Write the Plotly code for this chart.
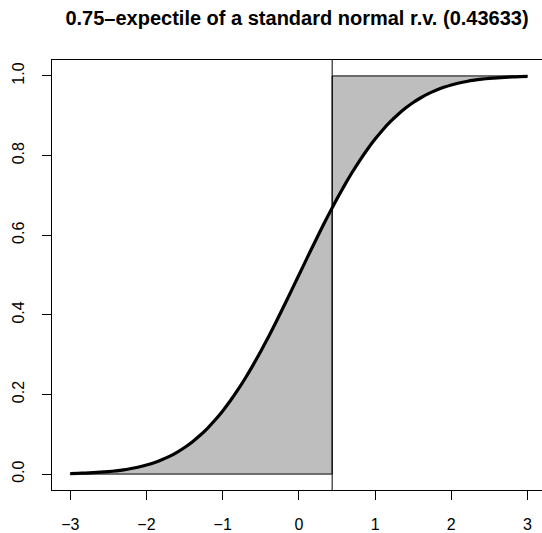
import plotly.graph_objects as go

# normal CDF curve, read at steps of 0.1
x_vals = [-3.0, -2.9, -2.8, -2.7, -2.6, -2.5, -2.4, -2.3, -2.2, -2.1,
          -2.0, -1.9, -1.8, -1.7, -1.6, -1.5, -1.4, -1.3, -1.2, -1.1,
          -1.0, -0.9, -0.8, -0.7, -0.6, -0.5, -0.4, -0.3, -0.2, -0.1,
          0.0, 0.1, 0.2, 0.3, 0.4, 0.5, 0.6, 0.7, 0.8, 0.9,
          1.0, 1.1, 1.2, 1.3, 1.4, 1.5, 1.6, 1.7, 1.8, 1.9,
          2.0, 2.1, 2.2, 2.3, 2.4, 2.5, 2.6, 2.7, 2.8, 2.9, 3.0]
cdf_vals = [0.00135, 0.00187, 0.00256, 0.00347, 0.00466, 0.00621, 0.00820, 0.01072, 0.01390, 0.01786,
            0.02275, 0.02872, 0.03593, 0.04457, 0.05480, 0.06681, 0.08076, 0.09680, 0.11507, 0.13567,
            0.15866, 0.18406, 0.21186, 0.24196, 0.27425, 0.30854, 0.34458, 0.38209, 0.42074, 0.46017,
            0.50000, 0.53983, 0.57926, 0.61791, 0.65542, 0.69146, 0.72575, 0.75804, 0.78814, 0.81594,
            0.84134, 0.86433, 0.88493, 0.90320, 0.91924, 0.93319, 0.94520, 0.95543, 0.96407, 0.97128,
            0.97725, 0.98214, 0.98610, 0.98928, 0.99180, 0.99379, 0.99534, 0.99653, 0.99744, 0.99813, 0.99865]
expectile = 0.43633
cdf_at_expectile = 0.66870
x_ticks = [-3, -2, -1, 0, 1, 2, 3]
x_ticklabels = ["−3", "−2", "−1", "0", "1", "2", "3"]
y_ticks = [0.0, 0.2, 0.4, 0.6, 0.8, 1.0]
y_ticklabels = ["0.0", "0.2", "0.4", "0.6", "0.8", "1.0"]
title_text = "0.75–expectile of a standard normal r.v. (0.43633)"

# left polygon: under the curve up to expectile
lx = [x for x in x_vals if x < expectile] + [expectile, expectile, x_vals[0]]
ly = [y for x, y in zip(x_vals, cdf_vals) if x < expectile] + [cdf_at_expectile, 0.0, 0.0]
# right polygon: above the curve from expectile
rx = [expectile] + [x for x in x_vals if x > expectile] + [x_vals[-1], expectile]
ry = [cdf_at_expectile] + [y for x, y in zip(x_vals, cdf_vals) if x > expectile] + [1.0, 1.0]

fig = go.Figure()
fig.add_trace(go.Scatter(x=lx + [lx[0]], y=ly + [ly[0]], mode="lines", fill="toself",
                         fillcolor="#BEBEBE", line=dict(color="black", width=1),
                         hoverinfo="skip", showlegend=False))
fig.add_trace(go.Scatter(x=rx + [rx[0]], y=ry + [ry[0]], mode="lines", fill="toself",
                         fillcolor="#BEBEBE", line=dict(color="black", width=1),
                         hoverinfo="skip", showlegend=False))
fig.add_trace(go.Scatter(x=x_vals, y=cdf_vals, mode="lines",
                         line=dict(color="black", width=3.2, shape="spline", smoothing=0.6),
                         showlegend=False))

fig.add_shape(type="line", xref="x", yref="paper", x0=expectile, x1=expectile, y0=0, y1=1,
              line=dict(color="black", width=1))

FONT = "Liberation Sans, Arial, Helvetica, sans-serif"
fig.update_layout(
    width=542, height=533,
    margin=dict(l=52, r=0, t=60, b=41),
    paper_bgcolor="white", plot_bgcolor="white",
    font=dict(family=FONT, size=16, color="black"),
    title=dict(text="<b>" + title_text + "</b>", xref="paper", x=0.5, xanchor="center",
               yref="container", y=1 - 18 / 533, yanchor="middle",
               font=dict(size=20, family=FONT, color="black")),
)
fig.update_xaxes(range=[-3.24, 3.19], tickvals=x_ticks, ticktext=x_ticklabels,
                 ticks="outside", ticklen=9, tickcolor="black", tickwidth=1,
                 showgrid=False, zeroline=False, showline=True, linecolor="black", linewidth=1,
                 mirror=True, ticklabelstandoff=11)
fig.update_yaxes(range=[-0.04, 1.04], tickvals=y_ticks, ticktext=y_ticklabels, tickangle=-90,
                 ticks="outside", ticklen=9, tickcolor="black", tickwidth=1,
                 showgrid=False, zeroline=False, showline=True, linecolor="black", linewidth=1,
                 ticklabelstandoff=12)

fig.write_html("out.html", config={"displayModeBar": False},
               post_script="document.body.style.margin='0';document.body.style.overflow='hidden';")
